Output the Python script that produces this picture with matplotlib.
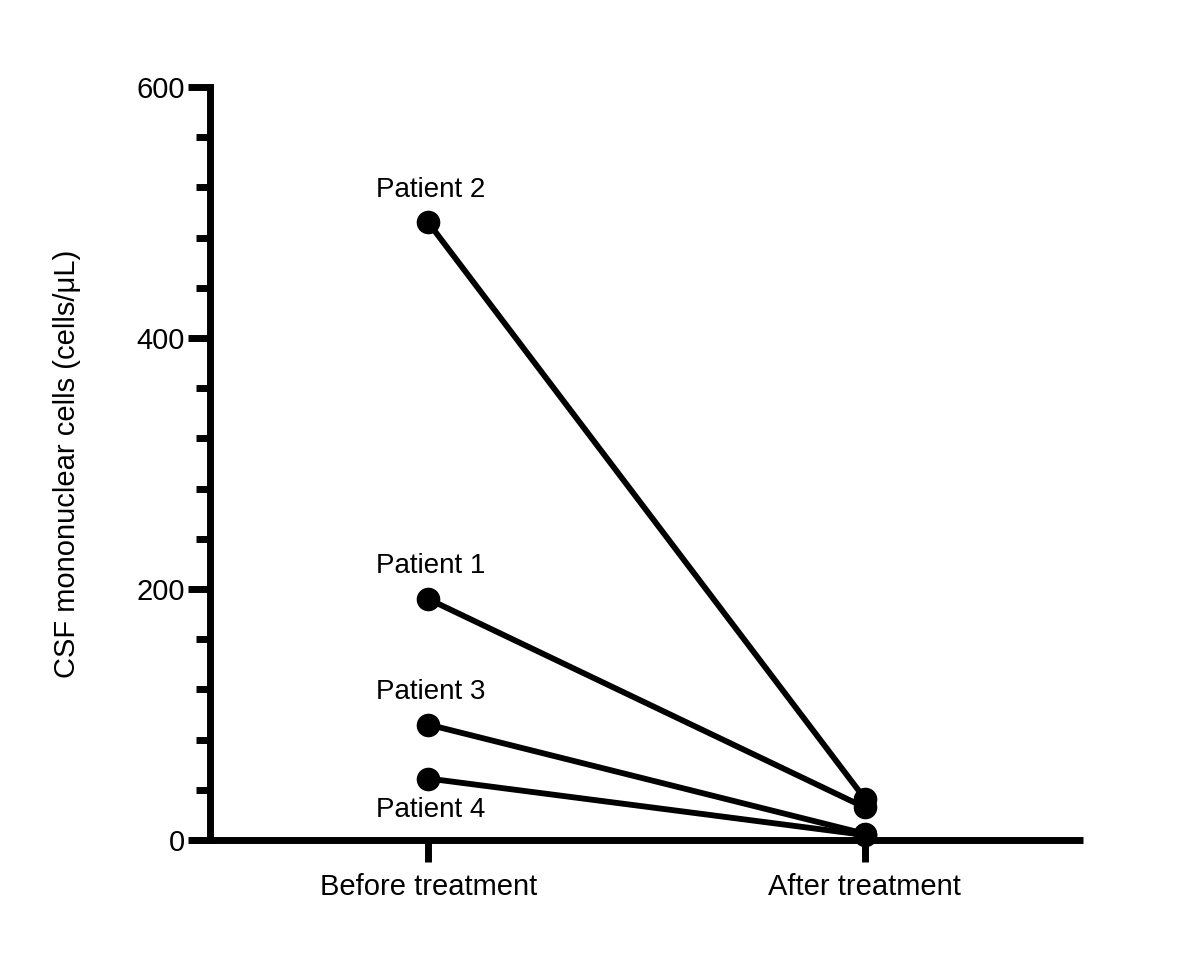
import matplotlib
matplotlib.use("Agg")
import matplotlib.pyplot as plt
from matplotlib.ticker import MultipleLocator

plt.rcParams['font.family'] = ['Liberation Sans', 'DejaVu Sans']

categories = ["Before treatment", "After treatment"]
patients = ["Patient 1", "Patient 2", "Patient 3", "Patient 4"]
before = [192, 492, 92, 49]
after = [26, 33, 5, 4]
label_offsets = {"Patient 1": 26, "Patient 2": 26, "Patient 3": 26, "Patient 4": -25}

fig = plt.figure(figsize=(12, 9.55), dpi=100)
ax = fig.add_axes([0.175, 0.1204, 0.7275, 0.7886])

xs = [0, 1]
for name, b, a in zip(patients, before, after):
    ax.plot(xs, [b, a], color='black', lw=4.2, marker='o', markersize=16,
            solid_capstyle='butt', clip_on=False, zorder=3)
    ax.text(0.005, b + label_offsets[name], name, ha='center', va='center', fontsize=20)

ax.set_xlim(-0.5, 1.5)
ax.set_ylim(0, 600)
ax.set_xticks(xs)
ax.set_xticklabels(categories, fontsize=21)
ax.yaxis.set_major_locator(MultipleLocator(200))
ax.yaxis.set_minor_locator(MultipleLocator(40))
ax.tick_params(axis='y', which='major', length=16, width=5, labelsize=21, pad=2)
ax.tick_params(axis='y', which='minor', length=10, width=5)
ax.tick_params(axis='x', which='major', length=16, width=5, labelsize=21, pad=8)
for s in ['top', 'right']:
    ax.spines[s].set_visible(False)
for s in ['left', 'bottom']:
    ax.spines[s].set_linewidth(5)
ax.spines['bottom'].set_bounds(-0.545, 1.5)
ax.spines['bottom'].set_capstyle('butt')
ax.set_ylabel("CSF mononuclear cells (cells/\u03bcL)", fontsize=21, labelpad=40)

fig.savefig("out.png", dpi=100)
